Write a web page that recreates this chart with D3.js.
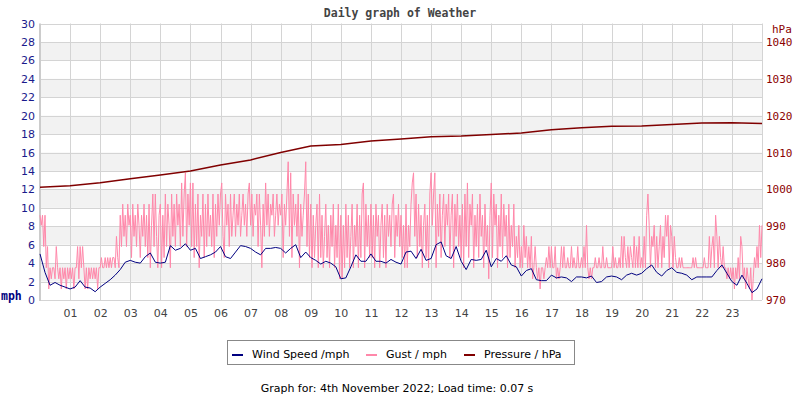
<!DOCTYPE html>
<html>
<head>
<meta charset="utf-8">
<script src="https://cdn.jsdelivr.net/npm/d3@7"></script>
<style>
  body { margin: 0; background: #fff; }
  svg { display: block; }
</style>
</head>
<body>
<svg id="SVGweather" width="800" height="400"></svg>
<script>
// hour labels on the x axis
const hourTicks = d3.range(1, 24);

// wind speed, mph, one reading every 10 minutes from 00:00 to 24:00
const windSpeed = [
    5.0, 3.0, 1.6, 1.9, 1.6, 1.4, 1.2, 1.4, 2.1, 1.4, 1.3, 0.9,
    1.4, 1.8, 2.2, 2.7, 3.3, 4.1, 4.3, 4.1, 4.0, 4.7, 5.1, 4.1,
    4.0, 4.1, 5.9, 5.4, 5.6, 6.1, 5.4, 5.6, 4.5, 4.7, 4.9, 5.2,
    5.8, 4.7, 4.5, 5.2, 5.9, 5.8, 5.6, 5.2, 4.9, 5.6, 5.6, 5.7,
    5.6, 5.1, 5.6, 6.0, 4.6, 5.2, 4.6, 4.3, 3.9, 4.2, 4.0, 3.6,
    2.3, 2.4, 3.6, 4.9, 4.2, 4.2, 5.0, 4.2, 4.2, 4.0, 4.4, 4.1,
    3.9, 5.2, 5.3, 4.5, 5.5, 4.3, 4.5, 6.0, 6.3, 4.8, 4.5, 5.8,
    4.2, 3.3, 4.4, 4.3, 4.4, 5.4, 3.6, 4.5, 4.2, 4.8, 3.8, 3.6,
    2.6, 3.2, 3.4, 2.2, 2.1, 2.1, 2.7, 2.4, 2.5, 2.4, 2.0, 2.5,
    2.5, 2.4, 2.6, 1.9, 2.0, 2.5, 2.6, 2.5, 2.2, 2.7, 2.9, 2.7,
    2.9, 3.4, 3.8, 3.0, 2.6, 3.2, 3.5, 3.0, 2.9, 2.7, 2.2, 2.5,
    2.5, 2.5, 2.5, 3.2, 3.8, 2.9, 2.0, 1.6, 2.7, 1.8, 0.8, 1.2,
    2.3
];

// gusts, mph, one reading every 2.5 minutes from 00:00 to 24:00 (one row per hour)
const gust = [
    9.2, 8.1, 9.2, 5.8, 9.2, 3.5, 5.8, 1.2, 3.5, 2.3, 3.5, 3.5, 2.3, 5.8, 3.5, 2.3, 3.5, 1.2, 3.5, 2.3, 3.5, 1.2, 3.5, 2.3,
    3.5, 2.3, 3.5, 1.2, 3.5, 3.5, 5.8, 2.3, 5.8, 3.5, 5.8, 3.5, 1.2, 3.5, 1.2, 3.5, 2.3, 3.5, 2.3, 3.5, 2.3, 3.5, 1.2, 3.5,
    3.5, 4.6, 3.5, 3.5, 4.6, 3.5, 4.6, 3.5, 4.6, 3.5, 4.6, 4.6, 3.5, 6.9, 4.6, 3.5, 9.2, 5.8, 10.4, 6.9, 9.2, 5.8, 10.4, 8.1,
    9.2, 4.6, 10.4, 6.9, 9.2, 5.8, 10.4, 8.1, 4.6, 9.2, 6.9, 10.4, 5.8, 9.2, 4.6, 10.4, 3.5, 8.1, 11.5, 5.8, 11.5, 6.9, 3.5, 9.2,
    10.4, 3.5, 9.2, 4.6, 11.5, 5.8, 10.4, 8.1, 3.5, 11.5, 6.9, 10.4, 5.8, 11.5, 8.1, 10.4, 5.8, 12.7, 6.9, 11.5, 13.8, 5.8, 11.5, 8.1,
    12.7, 5.8, 12.7, 4.6, 10.4, 5.8, 11.5, 3.5, 9.2, 6.9, 11.5, 4.6, 10.4, 5.8, 11.5, 6.9, 9.2, 5.8, 11.5, 4.6, 10.4, 6.9, 11.5, 8.1,
    11.5, 12.7, 6.9, 4.6, 11.5, 8.1, 10.4, 5.8, 11.5, 6.9, 9.2, 11.5, 6.9, 10.4, 8.1, 11.5, 6.9, 9.2, 11.5, 8.1, 10.4, 6.9, 11.5, 12.7,
    8.1, 11.5, 6.9, 10.4, 9.2, 11.5, 5.8, 11.5, 8.1, 3.5, 10.4, 6.9, 12.7, 8.1, 11.5, 6.9, 10.4, 9.2, 11.5, 6.9, 9.2, 11.5, 8.1, 10.4,
    9.2, 11.5, 4.6, 10.4, 8.1, 11.5, 15.0, 6.9, 13.8, 4.6, 11.5, 8.1, 10.4, 6.9, 11.5, 3.5, 10.4, 6.9, 9.2, 11.5, 15.0, 5.8, 11.5, 4.6,
    10.4, 3.5, 9.2, 4.6, 8.1, 10.4, 3.5, 11.5, 4.6, 9.2, 3.5, 6.9, 10.4, 4.6, 8.1, 3.5, 9.2, 5.8, 10.4, 3.5, 8.1, 4.6, 10.4, 2.3,
    9.2, 2.3, 8.1, 3.5, 10.4, 4.6, 9.2, 3.5, 6.9, 10.4, 3.5, 8.1, 5.8, 10.4, 3.5, 9.2, 4.6, 11.5, 12.7, 3.5, 10.4, 5.8, 9.2, 4.6,
    10.4, 4.6, 9.2, 3.5, 10.4, 6.9, 9.2, 3.5, 8.1, 10.4, 4.6, 9.2, 3.5, 10.4, 6.9, 9.2, 5.8, 10.4, 11.5, 4.6, 9.2, 6.9, 10.4, 5.8,
    9.2, 4.6, 8.1, 3.5, 10.4, 3.5, 8.1, 5.8, 10.4, 12.7, 13.8, 6.9, 11.5, 4.6, 10.4, 5.8, 9.2, 3.5, 8.1, 10.4, 4.6, 9.2, 3.5, 11.5,
    13.8, 8.1, 11.5, 13.8, 3.5, 10.4, 6.9, 11.5, 4.6, 9.2, 11.5, 5.8, 10.4, 8.1, 11.5, 4.6, 9.2, 11.5, 3.5, 10.4, 6.9, 11.5, 5.8, 9.2,
    4.6, 10.4, 3.5, 11.5, 5.8, 12.7, 4.6, 10.4, 8.1, 11.5, 3.5, 9.2, 5.8, 10.4, 4.6, 11.5, 6.9, 9.2, 3.5, 10.4, 5.8, 8.1, 2.3, 9.2,
    12.7, 4.6, 11.5, 8.1, 10.4, 3.5, 9.2, 5.8, 11.5, 4.6, 10.4, 6.9, 9.2, 3.5, 10.4, 4.6, 8.1, 5.8, 10.4, 3.5, 6.9, 4.6, 8.1, 3.5,
    5.8, 3.5, 8.1, 4.6, 6.9, 3.5, 5.8, 3.5, 6.9, 2.3, 3.5, 5.8, 3.5, 2.3, 3.5, 1.2, 3.5, 3.5, 2.3, 3.5, 4.6, 3.5, 5.8, 3.5,
    5.8, 3.5, 3.5, 5.8, 2.3, 3.5, 2.3, 3.5, 5.8, 3.5, 5.8, 3.5, 3.5, 4.6, 3.5, 3.5, 5.8, 3.5, 4.6, 3.5, 3.5, 5.8, 3.5, 3.5,
    4.6, 3.5, 5.8, 3.5, 8.1, 3.5, 2.3, 3.5, 2.3, 3.5, 3.5, 4.6, 3.5, 3.5, 4.6, 3.5, 3.5, 5.8, 3.5, 3.5, 4.6, 3.5, 3.5, 3.5,
    3.5, 5.8, 3.5, 4.6, 3.5, 3.5, 4.6, 3.5, 6.9, 3.5, 6.9, 4.6, 3.5, 5.8, 3.5, 5.8, 4.6, 3.5, 6.9, 3.5, 5.8, 3.5, 6.9, 3.5,
    4.6, 3.5, 6.9, 3.5, 9.2, 11.5, 8.1, 3.5, 6.9, 5.8, 8.1, 3.5, 6.9, 3.5, 5.8, 8.1, 3.5, 6.9, 4.6, 9.2, 6.9, 9.2, 3.5, 8.1,
    6.9, 3.5, 6.9, 4.6, 3.5, 3.5, 4.6, 3.5, 4.6, 3.5, 3.5, 3.5, 3.5, 3.5, 3.5, 3.5, 3.5, 4.6, 3.5, 4.6, 3.5, 3.5, 3.5, 3.5,
    3.5, 3.5, 4.6, 3.5, 3.5, 3.5, 6.9, 3.5, 5.8, 6.9, 3.5, 9.2, 6.9, 3.5, 6.9, 4.6, 3.5, 5.8, 3.5, 3.5, 2.3, 3.5, 2.3, 3.5,
    2.3, 3.5, 1.2, 3.5, 2.3, 4.6, 2.3, 6.9, 5.8, 2.3, 3.5, 1.2, 3.5, 2.3, 1.2, 3.5, 0.0, 2.3, 4.6, 3.5, 5.8, 3.5, 8.1, 4.6,
    8.1
];

// pressure, hPa, hourly from 00:00 to 24:00
const pressure = [
    1000.6, 1001.0, 1001.8, 1002.9, 1003.9, 1005.0, 1006.6, 1008.0,
    1010.0, 1011.8, 1012.2, 1013.1, 1013.7, 1014.3, 1014.5, 1014.9,
    1015.3, 1016.2, 1016.7, 1017.1, 1017.2, 1017.6, 1018.0, 1018.1,
    1017.9
];

const weatherChart = {
    SVG: d3.select("#SVGweather"),
    plot: { left: 40, right: 762, top: 23.5, bottom: 300 },
    colors: { wind: "#000080", gust: "#ff88aa", pressure: "#800000" },

    render: () => {
        const svg = weatherChart.SVG;
        const p = weatherChart.plot;
        const c = weatherChart.colors;

        // minutes since midnight -> x
        const x = d3.scaleLinear().domain([0, 1440]).range([p.left, p.right]);
        const y = d3.scaleLinear().domain([0, 30]).range([p.bottom, p.top]);
        const yP = d3.scaleLinear().domain([970, 1045]).range([p.bottom, p.top]);

        // title
        svg.append("text")
            .attr("x", 400).attr("y", 17)
            .attr("text-anchor", "middle")
            .style("font-family", "DejaVu Sans Mono")
            .style("font-weight", "bold")
            .style("font-size", "11.5px")
            .style("fill", "#444")
            .text("Daily graph of Weather");

        // shaded bands every other 2 mph
        svg.append("g").selectAll("rect")
            .data(d3.range(2, 30, 4))
            .enter().append("rect")
            .attr("x", p.left).attr("width", p.right - p.left)
            .attr("y", d => y(d + 2)).attr("height", d => y(d) - y(d + 2))
            .style("fill", "#f2f2f2");

        // grid
        const grid = svg.append("g").style("stroke", "#d4d4d4").style("stroke-width", 1);
        grid.selectAll(".h").data(d3.range(2, 31, 2)).enter().append("line")
            .attr("x1", p.left).attr("x2", p.right)
            .attr("y1", d => Math.round(y(d)) + 0.5).attr("y2", d => Math.round(y(d)) + 0.5);
        grid.selectAll(".v").data(hourTicks).enter().append("line")
            .attr("x1", d => Math.round(x(d * 60)) + 0.5).attr("x2", d => Math.round(x(d * 60)) + 0.5)
            .attr("y1", p.top).attr("y2", p.bottom);
        grid.append("line")
            .attr("x1", p.right + 0.5).attr("x2", p.right + 0.5)
            .attr("y1", p.top).attr("y2", p.bottom);
        grid.append("line")
            .attr("x1", p.left).attr("x2", p.right)
            .attr("y1", p.bottom + 0.5).attr("y2", p.bottom + 0.5);
        // heavier left edge
        svg.append("line")
            .attr("x1", p.left).attr("x2", p.left)
            .attr("y1", p.top).attr("y2", p.bottom + 1)
            .style("stroke", "#cccccc").style("stroke-width", 2);

        // series
        const gustLine = d3.line().x((d, i) => x(i * 2.5)).y(d => y(d));
        const windLine = d3.line().x((d, i) => x(i * 10)).y(d => y(d));
        const presLine = d3.line().x((d, i) => x(i * 60)).y(d => yP(d));

        svg.append("path").datum(gust)
            .attr("d", gustLine)
            .style("fill", "none").style("stroke", c.gust).style("stroke-width", 1);
        svg.append("path").datum(windSpeed)
            .attr("d", windLine)
            .style("fill", "none").style("stroke", c.wind).style("stroke-width", 1);
        svg.append("path").datum(pressure)
            .attr("d", presLine)
            .style("fill", "none").style("stroke", c.pressure).style("stroke-width", 1.5);

        // left axis
        const axL = svg.append("g")
            .attr("transform", `translate(${p.left - 5},0)`)
            .call(d3.axisLeft(y).tickValues(d3.range(0, 31, 2)).tickSize(0).tickPadding(0));
        axL.select(".domain").remove();
        axL.selectAll("text")
            .style("font-family", "DejaVu Sans").style("font-size", "11px").style("fill", "#1a1a8c");

        svg.append("text")
            .attr("x", 1).attr("y", 300)
            .style("font-family", "DejaVu Sans Mono").style("font-weight", "bold")
            .style("font-size", "11.5px").style("fill", "#000080")
            .text("mph");

        // right axis
        const axR = svg.append("g")
            .attr("transform", `translate(${p.right + 4},0)`)
            .call(d3.axisRight(yP).tickValues(d3.range(970, 1041, 10)).tickSize(0).tickPadding(0)
                .tickFormat(d3.format("d")));
        axR.select(".domain").remove();
        axR.selectAll("text")
            .style("font-family", "DejaVu Sans Mono").style("font-size", "11px").style("fill", "#8b0000");

        svg.append("text")
            .attr("x", 772).attr("y", 33)
            .style("font-family", "DejaVu Sans Mono")
            .style("font-size", "11px").style("fill", "#8b0000")
            .text("hPa");

        // bottom axis
        const axB = svg.append("g")
            .attr("transform", `translate(0,${p.bottom + 9})`)
            .call(d3.axisBottom(x).tickValues(hourTicks.map(h => h * 60)).tickSize(0).tickPadding(0)
                .tickFormat(m => d3.format("02d")(m / 60)));
        axB.select(".domain").remove();
        axB.selectAll("text")
            .style("font-family", "DejaVu Sans").style("font-size", "11px").style("fill", "#444");

        // legend
        const legendItems = [
            { label: "Wind Speed /mph", color: c.wind, x: 232 },
            { label: "Gust / mph", color: c.gust, x: 366 },
            { label: "Pressure / hPa", color: c.pressure, x: 464 }
        ];
        svg.append("rect")
            .attr("x", 227.5).attr("y", 340.5).attr("width", 347).attr("height", 24)
            .style("fill", "#fff").style("stroke", "#888").style("stroke-width", 1);
        const lg = svg.append("g").selectAll("g").data(legendItems).enter().append("g");
        lg.append("line")
            .attr("x1", d => d.x).attr("x2", d => d.x + 11)
            .attr("y1", 355).attr("y2", 355)
            .style("stroke", d => d.color).style("stroke-width", 2);
        lg.append("text")
            .attr("x", d => d.x + 20).attr("y", 358)
            .style("font-family", "DejaVu Sans").style("font-size", "11px").style("fill", "#000")
            .text(d => d.label);

        // footer
        svg.append("text")
            .attr("x", 397).attr("y", 392)
            .attr("text-anchor", "middle")
            .style("font-family", "DejaVu Sans").style("font-size", "11px").style("fill", "#000")
            .text("Graph for: 4th November 2022; Load time: 0.07 s");
    }
};

weatherChart.render();
</script>
</body>
</html>
